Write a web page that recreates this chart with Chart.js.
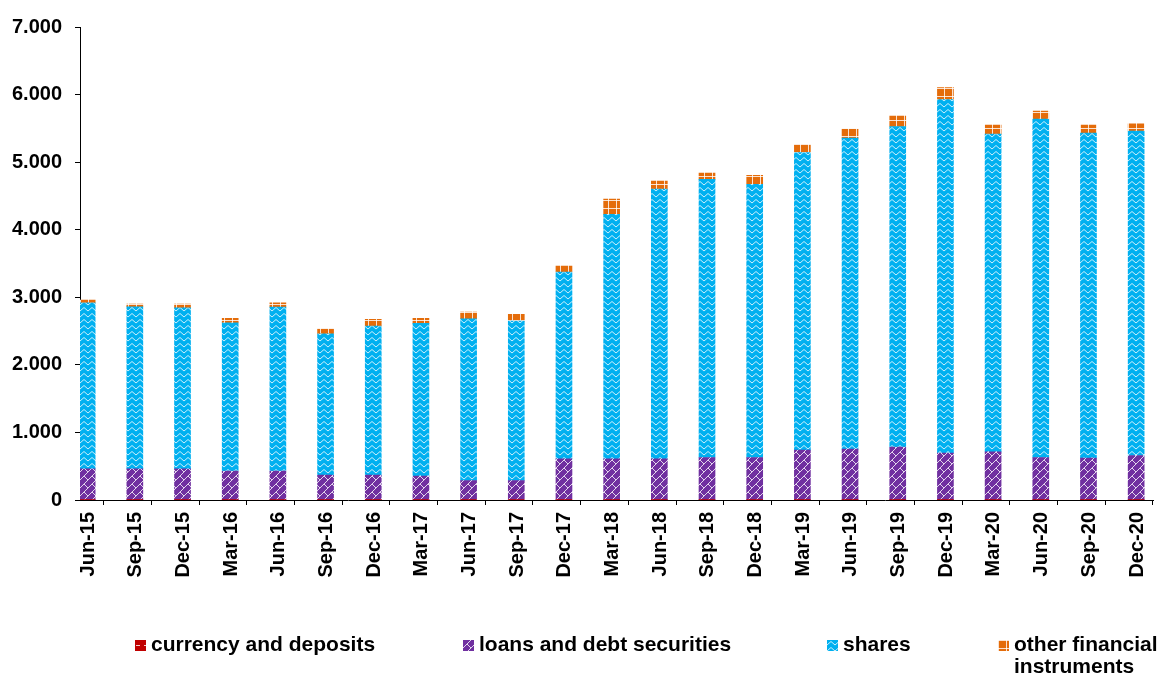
<!DOCTYPE html>
<html>
<head>
<meta charset="utf-8">
<title>Financial assets</title>
<script src="https://cdn.jsdelivr.net/npm/chart.js@4.4.1/dist/chart.umd.min.js"></script>
<style>
  body { margin: 0; background: #fff; }
  #wrap { position: relative; width: 1160px; height: 680px; }
  #legend {
    position: absolute; left: 0; top: 0; width: 1160px; height: 680px;
    pointer-events: none;
    font: bold 21px "Liberation Sans", Arial, sans-serif; color: #000;
  }
  .item { position: absolute; top: 633px; display: flex; align-items: flex-start; line-height: 22px; }
  .item canvas { margin-top: 7px; margin-right: 5px; flex: none; }
  .item span { white-space: nowrap; }
  .item.last span { white-space: normal; width: 147px; }
</style>
</head>
<body>
<div id="wrap">
  <canvas id="chart" width="1160" height="680"></canvas>
  <div id="legend"></div>
</div>
<script>
// Quarters on the x axis
const categories = [
  "Jun-15", "Sep-15", "Dec-15", "Mar-16", "Jun-16", "Sep-16", "Dec-16",
  "Mar-17", "Jun-17", "Sep-17", "Dec-17", "Mar-18", "Jun-18", "Sep-18",
  "Dec-18", "Mar-19", "Jun-19", "Sep-19", "Dec-19", "Mar-20", "Jun-20",
  "Sep-20", "Dec-20",
];

const seriesNames = [
  "currency and deposits",
  "loans and debt securities",
  "shares",
  "other financial instruments",
];

// Values
const currency = [3, 3, 3, 3, 3, 3, 3, 3, 3, 3, 3, 3, 3, 3, 3, 3, 3, 3, 3, 3, 3, 3, 3];
const loans = [459, 460, 460, 424, 424, 365, 365, 350, 286, 286, 606, 606, 606,
  626, 626, 735, 750, 780, 690, 710, 626, 616, 656];
const shares = [2457, 2397, 2382, 2196, 2428, 2092, 2206, 2261, 2393, 2359, 2764,
  3617, 3991, 4115, 4041, 4405, 4602, 4744, 5234, 4701, 5007, 4810, 4800];
const other = [40, 40, 55, 65, 64, 74, 99, 74, 99, 99, 89, 227, 119, 93, 133,
  118, 133, 153, 178, 133, 118, 118, 108];

const yMax = 7000;
const yStep = 1000;

// Layout bits
const barEdge = 0.15; // gap between axis and the first bar, in category units
const legendX = [135, 463, 827, 998];

// Excel-like fill patterns
function makePattern(base, draw, w, h) {
  const c = document.createElement("canvas");
  c.width = w;
  c.height = h;
  const g = c.getContext("2d");
  g.fillStyle = base;
  g.fillRect(0, 0, w, h);
  g.strokeStyle = "rgba(255,255,255,0.8)";
  g.lineWidth = 1;
  g.beginPath();
  draw(g);
  g.stroke();
  return c;
}

const tiles = [
  makePattern("#C00000", (g) => { g.moveTo(1, 5.5); g.lineTo(5, 5.5); }, 8, 8),
  makePattern("#7030A0", (g) => {
    g.moveTo(0, 8); g.lineTo(8, 0);
    g.moveTo(4, 4); g.lineTo(8, 8);
  }, 8, 8),
  makePattern("#00B0F0", (g) => {
    g.moveTo(0, 5); g.lineTo(4, 1.5); g.lineTo(8, 5);
  }, 8, 6),
  makePattern("#E46C0A", (g) => {
    g.moveTo(0.5, 0); g.lineTo(0.5, 8);
    g.moveTo(0, 0.5); g.lineTo(8, 0.5);
  }, 8, 8),
];

const ctx = document.getElementById("chart").getContext("2d");
const fills = tiles.map((t) => ctx.createPattern(t, "repeat"));

function toPoints(values) {
  return values.map((v, i) => ({ x: i, y: v }));
}

function formatThousands(v) {
  return String(v).replace(/\B(?=(\d{3})+(?!\d))/g, ".");
}

Chart.defaults.font.family = '"Liberation Sans", Arial, sans-serif';
Chart.defaults.font.size = 20;
Chart.defaults.font.weight = "bold";
Chart.defaults.color = "#000";

const allSeries = [currency, loans, shares, other];

new Chart(ctx, {
  type: "bar",
  data: {
    datasets: allSeries.map((values, k) => ({
      label: seriesNames[k],
      data: toPoints(values),
      backgroundColor: fills[k],
      borderWidth: 0,
      barThickness: 16,
    })),
  },
  options: {
    responsive: false,
    animation: false,
    layout: { padding: { top: 27, right: 0, bottom: 100, left: 0 } },
    plugins: {
      legend: { display: false },
      tooltip: { enabled: false },
    },
    scales: {
      x: {
        type: "linear",
        stacked: true,
        offset: false,
        min: -barEdge,
        max: 22.36,
        afterBuildTicks: (scale) => {
          scale.ticks = categories.map((c, i) => ({ value: i - barEdge }));
        },
        afterFit: (scale) => {
          scale.height = 80;
        },
        grid: { drawOnChartArea: false, tickLength: 5, color: "#000" },
        border: { color: "#000", width: 1 },
        ticks: {
          autoSkip: false,
          minRotation: 90,
          maxRotation: 90,
          labelOffset: 8,
          padding: 7,
          callback: (value, index) => categories[index],
        },
      },
      y: {
        stacked: true,
        min: 0,
        max: yMax,
        afterFit: (scale) => {
          scale.width = 80;
        },
        grid: { drawOnChartArea: false, tickLength: 5, color: "#000" },
        border: { color: "#000", width: 1 },
        ticks: {
          stepSize: yStep,
          padding: 13,
          callback: (value) => formatThousands(value),
        },
      },
    },
  },
});

// Legend laid out like the original, below the axis labels
const legend = document.getElementById("legend");
seriesNames.forEach((name, k) => {
  const item = document.createElement("div");
  item.className = k === seriesNames.length - 1 ? "item last" : "item";
  item.style.left = legendX[k] + "px";

  const swatch = document.createElement("canvas");
  swatch.width = 11;
  swatch.height = 11;
  const sg = swatch.getContext("2d");
  sg.fillStyle = sg.createPattern(tiles[k], "repeat");
  sg.fillRect(0, 0, 11, 11);

  const text = document.createElement("span");
  text.textContent = name;

  item.appendChild(swatch);
  item.appendChild(text);
  legend.appendChild(item);
});
</script>
</body>
</html>
